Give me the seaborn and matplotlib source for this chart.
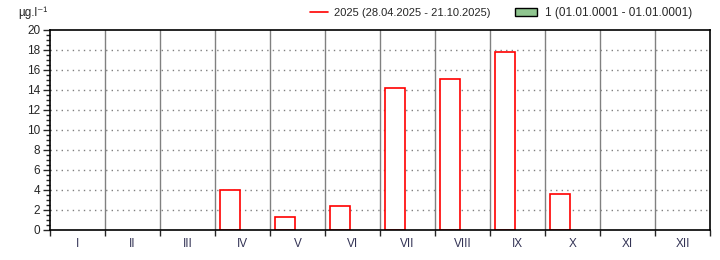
import matplotlib
matplotlib.use("Agg")
import matplotlib.pyplot as plt
import seaborn as sns
import pandas as pd
import numpy as np
from matplotlib.lines import Line2D
from matplotlib.patches import Patch
from matplotlib.ticker import MultipleLocator

months = ["I", "II", "III", "IV", "V", "VI", "VII", "VIII", "IX", "X", "XI", "XII"]
values_2025 = [np.nan, np.nan, np.nan, 4.0, 1.3, 2.4, 14.2, 15.1, 17.8, 3.6, np.nan, np.nan]
values_1 = [np.nan] * 12
series_names = ["2025", "1"]
legend_labels = ["2025 (28.04.2025 - 21.10.2025)", "1 (01.01.0001 - 01.01.0001)"]
unit_label = "µg.l⁻¹"

df = pd.DataFrame({
    "month": months * 2,
    "value": values_2025 + values_1,
    "series": [series_names[0]] * 12 + [series_names[1]] * 12,
})

sns.set_style("white")
plt.rcParams["font.family"] = ["Liberation Sans", "DejaVu Sans"]

fig = plt.figure(figsize=(7.2, 2.6), dpi=100)
ax = fig.add_axes([50 / 720, 1 - 230 / 260, 660 / 720, 200 / 260])

sns.barplot(data=df, x="month", y="value", hue="series", order=months,
            hue_order=series_names, dodge=True, width=0.9, gap=0.2,
            palette={"2025": "white", "1": "#8fc58f"}, edgecolor="red",
            linewidth=1.2, errorbar=None, legend=False, ax=ax)

ax.set_xlim(-0.5, 11.5)
ax.set_ylim(0, 20)
ax.set_xlabel("")
ax.set_ylabel("")

# grid
for k in range(11):
    ax.axvline(k + 0.5, color="#808080", lw=1.0, zorder=0)
for yv in range(2, 20, 2):
    ax.axhline(yv, color="#808080", lw=1.0, ls=(0, (1, 3)), zorder=0)

ax.yaxis.set_major_locator(MultipleLocator(2))
ax.yaxis.set_minor_locator(MultipleLocator(0.5))
ax.set_xticks(np.arange(12))
ax.set_xticklabels(months)
ax.set_xticks(np.arange(-0.5, 12, 1), minor=True)
ax.tick_params(axis="x", which="major", length=0, labelsize=8.5, pad=6, colors="#333355")
ax.tick_params(axis="x", which="minor", length=4, width=1, direction="out", bottom=True)
ax.tick_params(axis="y", which="major", length=5, width=1, direction="out", left=True, labelsize=8.5, pad=2)
ax.tick_params(axis="y", which="minor", length=3, width=1, direction="out", left=True)
for s in ax.spines.values():
    s.set_color("black")
    s.set_linewidth(1.2)

fig.text(18 / 720, 1 - 13 / 260, unit_label, fontsize=8.5, va="center", ha="left")

h_line = Line2D([0], [0], color="red", lw=1.2)
h_patch = Patch(facecolor="#8fc58f", edgecolor="black", lw=1)
fig.legend([h_line], [legend_labels[0]], loc="center left",
           bbox_to_anchor=(310 / 720, 1 - 13 / 260), frameon=False, fontsize=8,
           handlelength=1.6, handletextpad=0.6, borderaxespad=0, borderpad=0)
fig.legend([h_patch], [legend_labels[1]], loc="center left",
           bbox_to_anchor=(515 / 720, 1 - 13 / 260), frameon=False, fontsize=8.5,
           handlelength=1.9, handletextpad=0.6, borderaxespad=0, borderpad=0)

fig.savefig("out.png", dpi=100)
